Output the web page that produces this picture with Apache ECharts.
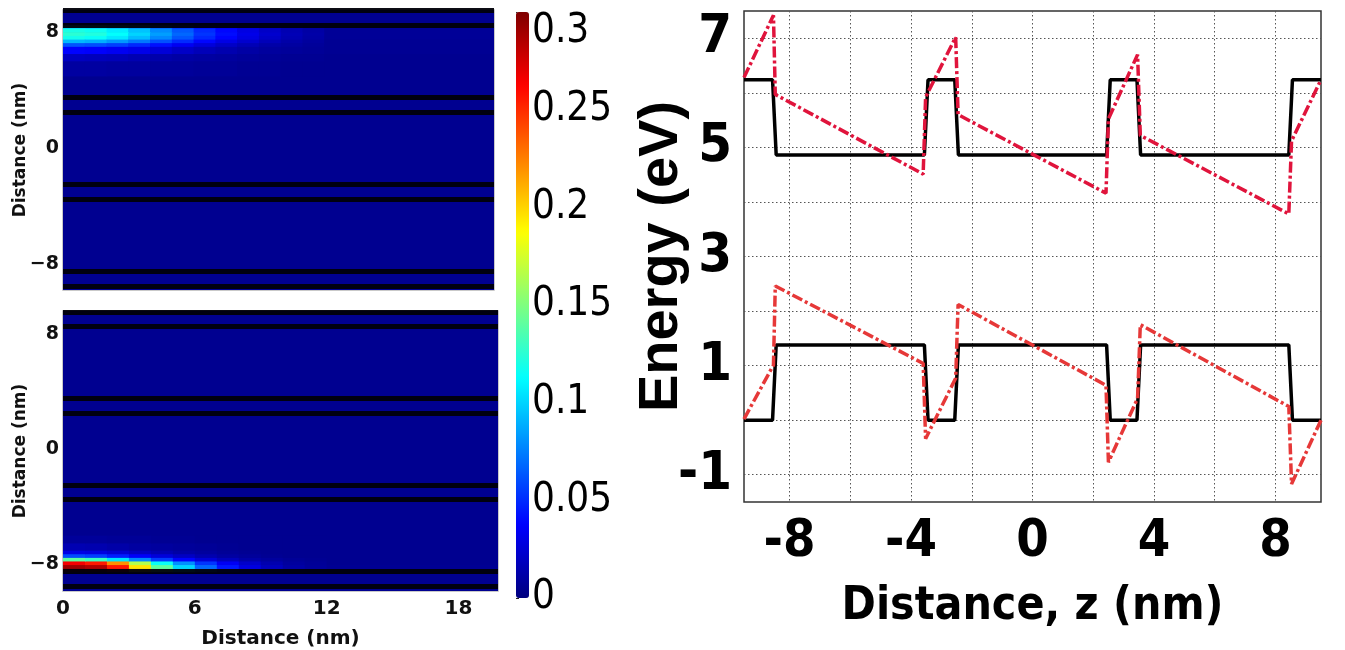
<!DOCTYPE html>
<html>
<head>
<meta charset="utf-8">
<script src="https://cdn.jsdelivr.net/npm/echarts@6/dist/echarts.min.js"></script>
<style>
html,body{margin:0;padding:0;background:#fff;}
#c{width:1345px;height:650px;}
</style>
</head>
<body>
<div id="c"></div>
<script>
// ---------- Heat-map data (left panels) ----------
const xEdges = [0,1,2,3,4,5,6,7,8,9,10,11,12,19.8];
const backgroundValue = 0.005;
const interfaces = [9.5, 8.5, 3.5, 2.5, -2.5, -3.5, -8.5, -9.5];

const topRowEdges = [8.5, 8.25, 8.0, 7.75, 7.5, 7.25, 7.0, 6.5, 6.0, 5.0];
const topRows = [
  [0.100,0.097,0.090,0.079,0.066,0.053,0.042,0.033,0.025,0.018,0.013,0.010,0.007],
  [0.120,0.117,0.108,0.095,0.079,0.064,0.050,0.039,0.029,0.021,0.015,0.011,0.007],
  [0.125,0.122,0.113,0.100,0.084,0.068,0.053,0.041,0.031,0.023,0.016,0.012,0.007],
  [0.118,0.115,0.106,0.093,0.078,0.063,0.049,0.038,0.029,0.021,0.015,0.011,0.007],
  [0.092,0.089,0.082,0.073,0.061,0.050,0.039,0.030,0.023,0.017,0.012,0.009,0.006],
  [0.062,0.060,0.056,0.049,0.042,0.034,0.027,0.021,0.016,0.012,0.010,0.008,0.006],
  [0.038,0.037,0.034,0.031,0.026,0.021,0.017,0.014,0.011,0.009,0.008,0.007,0.006],
  [0.019,0.018,0.017,0.015,0.013,0.011,0.010,0.009,0.008,0.007,0.006,0.006,0.005],
  [0.010,0.010,0.009,0.009,0.008,0.008,0.007,0.007,0.006,0.006,0.005,0.005,0.005]
];

const bottomRowEdges = [-8.5, -8.25, -8.0, -7.75, -7.5, -7.25, -7.0, -6.5, -6.0];
const bottomRows = [
  [0.295,0.290,0.260,0.200,0.145,0.105,0.072,0.047,0.030,0.019,0.012,0.009,0.006],
  [0.290,0.285,0.255,0.195,0.140,0.100,0.068,0.044,0.028,0.018,0.011,0.008,0.006],
  [0.265,0.255,0.220,0.165,0.115,0.080,0.053,0.034,0.022,0.014,0.009,0.007,0.005],
  [0.140,0.130,0.105,0.078,0.055,0.038,0.026,0.018,0.012,0.009,0.007,0.006,0.005],
  [0.060,0.056,0.046,0.036,0.027,0.020,0.014,0.010,0.008,0.006,0.005,0.005,0.005],
  [0.030,0.028,0.024,0.019,0.015,0.011,0.009,0.007,0.006,0.005,0.005,0.005,0.005],
  [0.015,0.014,0.012,0.010,0.009,0.008,0.007,0.006,0.005,0.005,0.005,0.005,0.005],
  [0.008,0.008,0.007,0.007,0.006,0.006,0.005,0.005,0.005,0.005,0.005,0.005,0.005]
];

const heatXLabels = [0, 6, 12, 18];
const heatYLabels = [-8, 0, 8];
const colorbarMax = 0.3;

// ---------- Band-edge data (right panel) ----------
const bandX   = [-9.5,-8.56,-8.44,-3.56,-3.44,-2.56,-2.44,2.44,2.56,3.44,3.56,8.44,8.56,9.5];
const cbFlat  = [6.24,6.24,4.86,4.86,6.24,6.24,4.86,4.86,6.24,6.24,4.86,4.86,6.24,6.24];
const vbFlat  = [0,0,1.38,1.38,0,0,1.38,1.38,0,0,1.38,1.38,0,0];

const tiltX   = [-9.5,-8.53,-8.47,-3.6,-3.52,-2.53,-2.45,2.42,2.5,3.46,3.55,8.44,8.53,9.5];
const cbTilt  = [6.28,7.42,5.97,4.51,5.92,7.02,5.60,4.16,5.52,6.70,5.22,3.78,5.12,6.24];
const vbTilt  = [0.02,1.01,2.46,1.04,-0.34,0.77,2.12,0.64,-0.77,0.40,1.75,0.25,-1.17,0.0];

const energyXLabels = [-8,-4,0,4,8];
const energyXGrid = [-8,-6,-4,-2,0,2,4,6,8];
const energyYLabels = [-1,1,3,5,7];
const energyYGrid = [-1,0,1,2,3,4,5,6,7];

// ---------- build ----------
function buildCells(rowEdges, rows, yMin, yMax) {
  const cells = [[xEdges[0], xEdges[xEdges.length-1], yMin, yMax, backgroundValue]];
  for (let r = 0; r < rows.length; r++) {
    for (let c = 0; c < rows[r].length; c++) {
      cells.push([xEdges[c], xEdges[c+1], rowEdges[r], rowEdges[r+1], rows[r][c]]);
    }
  }
  return cells;
}
function zip(xs, ys){ return xs.map((x,i)=>[x, ys[i]]); }
const minus = v => (v < 0 ? '\u2212' + Math.abs(v) : String(v));
const dashMinus = v => (v < 0 ? '-' + Math.abs(v) : String(v));

function renderCell(params, api) {
  const x0 = api.value(0), x1 = api.value(1);
  const ya = api.value(2), yb = api.value(3);
  const p0 = api.coord([x0, Math.max(ya, yb)]);
  const p1 = api.coord([x1, Math.min(ya, yb)]);
  return {
    type: 'rect',
    shape: { x: p0[0], y: p0[1], width: p1[0] - p0[0] + 0.6, height: p1[1] - p0[1] + 0.6 },
    style: { fill: api.visual('color') }
  };
}

const stripeLine = {
  silent: true,
  symbol: ['none','none'],
  label: { show: false },
  lineStyle: { color: '#000008', width: 5, type: 'solid', opacity: 0.95 },
  data: interfaces.map(v => ({ yAxis: v }))
};

const smallFont = 'DejaVu Sans';
const narrow = '"DejaVu Sans Condensed", "Liberation Sans", sans-serif';

const topRange = [-9.77, 9.54];
const bottomRange = [-9.84, 9.57];

const heatXAxis = (gi, showLabels) => ({
  type: 'value', gridIndex: gi, min: 0, max: 19.8,
  axisLine: { show: false }, axisTick: { show: false }, splitLine: { show: false },
  axisLabel: { show: showLabels, customValues: heatXLabels, margin: 8,
    fontFamily: smallFont, fontWeight: 'bold', fontSize: 20, color: '#111' },
  name: showLabels ? 'Distance (nm)' : '', nameLocation: 'middle', nameGap: 38, nameMoveOverlap: false,
  nameTextStyle: { fontFamily: smallFont, fontWeight: 'bold', fontSize: 20, color: '#111' }
});
const heatYAxis = (gi, range) => ({
  type: 'value', gridIndex: gi, min: range[0], max: range[1],
  axisLine: { show: false }, axisTick: { show: false }, splitLine: { show: false },
  axisLabel: { customValues: heatYLabels, margin: 4, formatter: minus,
    fontFamily: smallFont, fontWeight: 'bold', fontSize: 19, color: '#111' },
  name: 'Distance (nm)', nameLocation: 'middle', nameGap: 34, nameRotate: 90, nameMoveOverlap: false,
  nameTextStyle: { fontFamily: smallFont, fontWeight: 'bold', fontSize: 17, color: '#111' }
});

const option = {
  animation: false,
  backgroundColor: '#fff',
  grid: [
    { left: 63, top: 10, width: 431, height: 280, show: true, borderColor: '#b8b8b8', borderWidth: 1.5, backgroundColor: 'transparent' },
    { left: 63, top: 311, width: 435, height: 286, show: true, borderColor: '#b8b8b8', borderWidth: 1.5, backgroundColor: 'transparent' },
    { left: 744, top: 11, width: 577, height: 491, show: true, borderColor: '#333', borderWidth: 1.5, backgroundColor: '#fff' },
    { left: 516, top: 12, width: 13, height: 586, show: false }
  ],
  visualMap: [{
    type: 'continuous', min: 0, max: colorbarMax, seriesIndex: [0, 1], dimension: 4,
    calculable: false, realtime: false, hoverLink: false,
    left: 516, top: 12, itemWidth: 13, itemHeight: 586, padding: 0,
    text: null, showLabel: false,
    inRange: { color: ['#00007F','#0000FF','#007FFF','#00FFFF','#7FFF7F','#FFFF00','#FF7F00','#FF0000','#7F0000'] }
  }],
  xAxis: [
    heatXAxis(0, false),
    heatXAxis(1, true),
    {
      type: 'value', gridIndex: 2, min: -9.5, max: 9.5,
      axisLine: { show: false },
      axisTick: { show: false, customValues: energyXGrid },
      splitLine: { show: true, lineStyle: { color: '#555', width: 1, type: [1.5, 2.5] } },
      axisLabel: { customValues: energyXLabels, formatter: dashMinus, margin: 14,
        fontFamily: narrow, fontWeight: 'bold', fontSize: 52, color: '#000' },
      name: 'Distance, z (nm)', nameLocation: 'middle', nameGap: 82, nameMoveOverlap: false,
      nameTextStyle: { fontFamily: narrow, fontWeight: 'bold', fontSize: 46, color: '#000' }
    },
    { type: 'value', gridIndex: 3, min: 0, max: 1, show: false }
  ],
  yAxis: [
    heatYAxis(0, topRange),
    heatYAxis(1, bottomRange),
    {
      type: 'value', gridIndex: 2, min: -1.5, max: 7.5,
      axisLine: { show: false },
      axisTick: { show: false, customValues: energyYGrid },
      splitLine: { show: true, lineStyle: { color: '#555', width: 1, type: [1.5, 2.5] } },
      axisLabel: { customValues: energyYLabels, formatter: dashMinus, margin: 12,
        fontFamily: narrow, fontWeight: 'bold', fontSize: 54, color: '#000' },
      name: 'Energy (eV)', nameLocation: 'middle', nameGap: 54, nameRotate: 90, nameMoveOverlap: false,
      nameTextStyle: { fontFamily: '"Liberation Sans", sans-serif', fontWeight: 'bold', fontSize: 56, color: '#000' }
    },
    {
      type: 'value', gridIndex: 3, min: 0, max: colorbarMax, interval: 0.05, position: 'right',
      axisLine: { show: false }, axisTick: { show: false }, splitLine: { show: false },
      axisLabel: { margin: 3, fontFamily: narrow, fontSize: 40, color: '#000', verticalAlignMaxLabel: 'top' }
    },
    {
      type: 'value', gridIndex: 3, min: 0, max: colorbarMax, interval: 0.05, position: 'left',
      axisLine: { show: false }, splitLine: { show: false },
      axisTick: { show: true, inside: true, length: 3, lineStyle: { color: '#222', width: 1 } },
      axisLabel: { show: false }
    }
  ],
  series: [
    {
      type: 'custom', xAxisIndex: 0, yAxisIndex: 0, clip: true, silent: true,
      dimensions: ['x0','x1','y0','y1','v'], encode: { x: [0,1], y: [2,3] },
      renderItem: renderCell, data: buildCells(topRowEdges, topRows, topRange[0], topRange[1]),
      markLine: stripeLine
    },
    {
      type: 'custom', xAxisIndex: 1, yAxisIndex: 1, clip: true, silent: true,
      dimensions: ['x0','x1','y0','y1','v'], encode: { x: [0,1], y: [2,3] },
      renderItem: renderCell, data: buildCells(bottomRowEdges, bottomRows, bottomRange[0], bottomRange[1]),
      markLine: stripeLine
    },
    {
      type: 'line', xAxisIndex: 2, yAxisIndex: 2, data: zip(bandX, cbFlat),
      showSymbol: false, silent: true, z: 3,
      lineStyle: { color: '#000', width: 3.5 }
    },
    {
      type: 'line', xAxisIndex: 2, yAxisIndex: 2, data: zip(bandX, vbFlat),
      showSymbol: false, silent: true, z: 3,
      lineStyle: { color: '#000', width: 3.5 }
    },
    {
      type: 'line', xAxisIndex: 2, yAxisIndex: 2, data: zip(tiltX, cbTilt),
      showSymbol: false, silent: true, z: 4,
      lineStyle: { color: '#e0143c', width: 3.5, type: [11, 3, 3, 3] }
    },
    {
      type: 'line', xAxisIndex: 2, yAxisIndex: 2, data: zip(tiltX, vbTilt),
      showSymbol: false, silent: true, z: 4,
      lineStyle: { color: '#e63838', width: 3.5, type: [11, 3, 3, 3] }
    },
    {
      type: 'line', xAxisIndex: 3, yAxisIndex: 3, data: [], silent: true
    }
  ]
};

const chart = echarts.init(document.getElementById('c'), null, { renderer: 'canvas' });
chart.setOption(option);
</script>
</body>
</html>
